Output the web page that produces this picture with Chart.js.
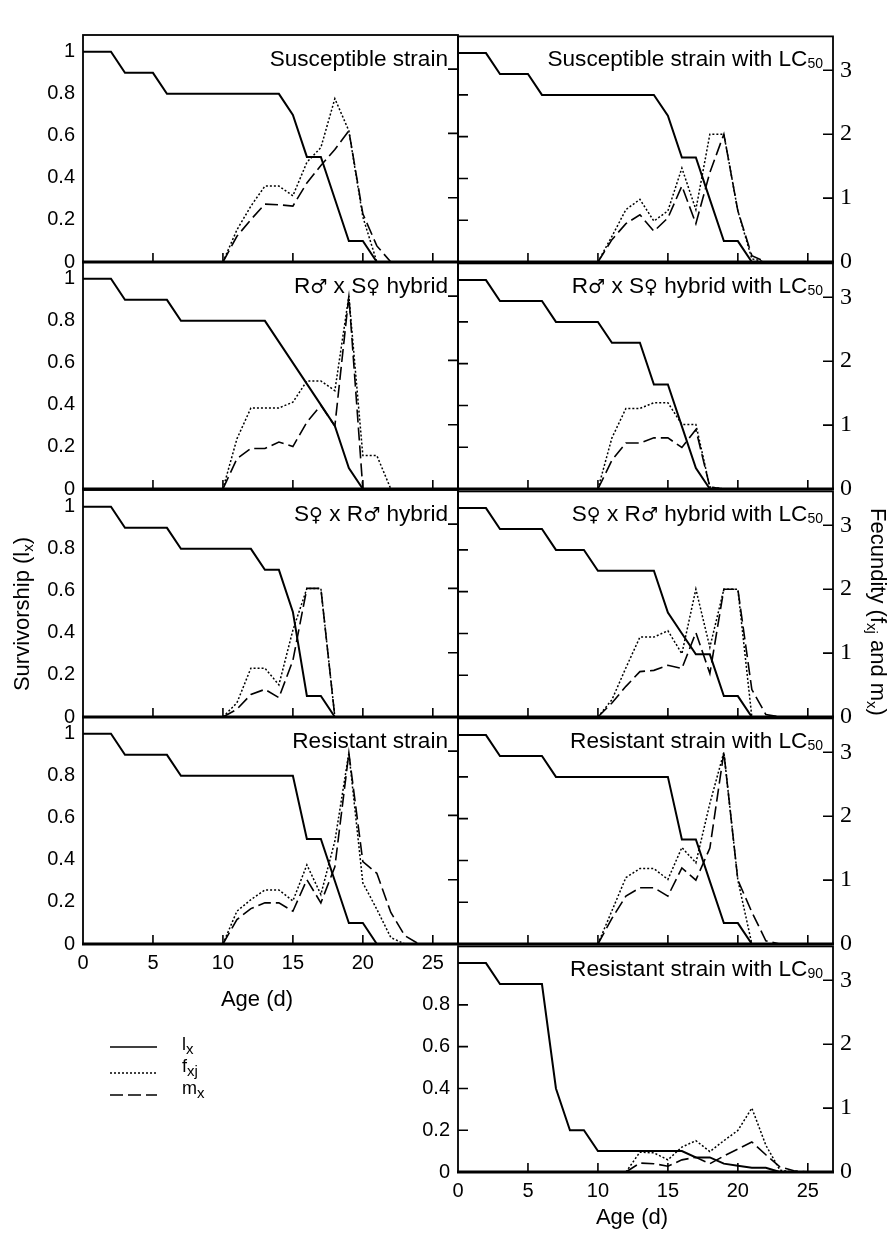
<!DOCTYPE html>
<html lang="en">
<head>
<meta charset="UTF-8">
<title>Survivorship and fecundity</title>
<script src="https://cdn.jsdelivr.net/npm/chart.js"></script>
<style>
  body { margin: 0; background: #fff; font-family: "Liberation Sans", Arial, "DejaVu Sans", sans-serif; color: #000; }
  #page { position: relative; width: 888px; height: 1258px; overflow: hidden; }
  canvas { position: absolute; }
  .title { position: absolute; width: 365px; text-align: right; font-size: 22.6px; line-height: 22px; white-space: nowrap; }
  .title sub { font-size: 14px; vertical-align: -2px; line-height: 0; }
  .sym { font-family: "DejaVu Sans", sans-serif; font-size: 19px; line-height: 0; }
  .lab { position: absolute; font-size: 22px; line-height: 24px; white-space: nowrap; text-align: center; }
  .lab sub, .leg sub { font-size: 15px; vertical-align: -4px; line-height: 0; }
  .leg { position: absolute; left: 182px; font-size: 18px; line-height: 20px; }
</style>
</head>
<body>
<div id="page">
  <div class="lab" style="left:197px; top:987px; width:120px;">Age (d)</div>
  <div class="lab" style="left:572px; top:1205px; width:120px;">Age (d)</div>
  <div class="lab" style="left:-98px; top:602px; width:240px; transform:rotate(-90deg);">Survivorship (l<sub>x</sub>)</div>
  <div class="lab" style="left:748px; top:600px; width:260px; transform:rotate(90deg);">Fecundity (f<sub>xj</sub> and m<sub>x</sub>)</div>
  <svg style="position:absolute; left:105px; top:1035px;" width="60" height="70">
    <line x1="5" y1="12" x2="52" y2="12" stroke="#000" stroke-width="1.6"/>
    <line x1="5" y1="38" x2="52" y2="38" stroke="#000" stroke-width="1.4" stroke-dasharray="2,2"/>
    <line x1="5" y1="60" x2="52" y2="60" stroke="#000" stroke-width="1.6" stroke-dasharray="13,5"/>
  </svg>
  <div class="leg" style="top:1034px;">l<sub>x</sub></div>
  <div class="leg" style="top:1056px;">f<sub>xj</sub></div>
  <div class="leg" style="top:1078px;">m<sub>x</sub></div>
</div>
<script>
const _ = null;
const ageDays = [0,1,2,3,4,5,6,7,8,9,10,11,12,13,14,15,16,17,18,19,20,21,22,23,24,25];
const ageTicks = [0, 5, 10, 15, 20, 25];
const survTicks = [0, 0.2, 0.4, 0.6, 0.8, 1];
const survTicksLC90 = [0, 0.2, 0.4, 0.6, 0.8];
const fecTicks = [0, 1, 2, 3];

// survivorship lx (left axis), fecundity fxj and mx (right axis), by age in days
const lxSus = [1,1,1,0.9,0.9,0.9,0.8,0.8,0.8,0.8,0.8,0.8,0.8,0.8,0.8,0.7,0.5,0.5,0.3,0.1,0.1,0];
const fxSus = [_,_,_,_,_,_,_,_,_,_,0,0.5,0.87,1.18,1.18,1.03,1.55,1.78,2.54,2.04,0.7,0];
const mxSus = [_,_,_,_,_,_,_,_,_,_,0,0.4,0.66,0.9,0.89,0.87,1.23,1.5,1.75,2.04,0.75,0.25,0];

const lxSusLC = [1,1,1,0.9,0.9,0.9,0.8,0.8,0.8,0.8,0.8,0.8,0.8,0.8,0.8,0.7,0.5,0.5,0.3,0.1,0.1,0];
const fxSusLC = [_,_,_,_,_,_,_,_,_,_,0,0.4,0.82,0.98,0.64,0.8,1.47,0.82,2.0,2.0,0.8,0.05,0];
const mxSusLC = [_,_,_,_,_,_,_,_,_,_,0,0.35,0.6,0.74,0.48,0.69,1.19,0.6,1.4,2.0,0.8,0.1,0];

const lxRS = [1,1,1,0.9,0.9,0.9,0.9,0.8,0.8,0.8,0.8,0.8,0.8,0.8,0.7,0.6,0.5,0.4,0.3,0.1,0];
const fxRS = [_,_,_,_,_,_,_,_,_,_,0,0.78,1.26,1.26,1.26,1.35,1.68,1.68,1.53,3.0,0.52,0.52,0];
const mxRS = [_,_,_,_,_,_,_,_,_,_,0,0.47,0.63,0.63,0.73,0.66,1.04,1.3,0.98,3.0,0];

const lxRSLC = [1,1,1,0.9,0.9,0.9,0.9,0.8,0.8,0.8,0.8,0.7,0.7,0.7,0.5,0.5,0.3,0.1,0];
const fxRSLC = [_,_,_,_,_,_,_,_,_,_,0,0.8,1.26,1.26,1.35,1.35,1.01,1.01,0.03,0];
const mxRSLC = [_,_,_,_,_,_,_,_,_,_,0,0.45,0.72,0.72,0.8,0.8,0.65,0.93,0.03,0];

const lxSR = [1,1,1,0.9,0.9,0.9,0.9,0.8,0.8,0.8,0.8,0.8,0.8,0.7,0.7,0.5,0.1,0.1,0];
const fxSR = [_,_,_,_,_,_,_,_,_,_,0,0.22,0.76,0.76,0.5,1.35,2.0,2.0,0];
const mxSR = [_,_,_,_,_,_,_,_,_,_,0,0.12,0.35,0.43,0.3,0.88,2.0,2.0,0];

const lxSRLC = [1,1,1,0.9,0.9,0.9,0.9,0.8,0.8,0.8,0.7,0.7,0.7,0.7,0.7,0.5,0.4,0.3,0.3,0.1,0.1,0];
const fxSRLC = [_,_,_,_,_,_,_,_,_,_,0,0.27,0.77,1.25,1.25,1.35,0.99,2.0,1.09,2.0,2.0,0];
const mxSRLC = [_,_,_,_,_,_,_,_,_,_,0,0.22,0.48,0.71,0.73,0.81,0.76,1.32,0.68,2.0,2.0,0.43,0.04,0];

const lxRes = [1,1,1,0.9,0.9,0.9,0.9,0.8,0.8,0.8,0.8,0.8,0.8,0.8,0.8,0.8,0.5,0.5,0.3,0.1,0.1,0];
const fxRes = [_,_,_,_,_,_,_,_,_,_,0,0.51,0.69,0.84,0.84,0.67,1.23,0.77,1.6,2.97,0.95,0.54,0.1,0];
const mxRes = [_,_,_,_,_,_,_,_,_,_,0,0.38,0.55,0.64,0.64,0.51,1.0,0.64,1.2,2.97,1.28,1.1,0.49,0.13,0];

const lxResLC = [1,1,1,0.9,0.9,0.9,0.9,0.8,0.8,0.8,0.8,0.8,0.8,0.8,0.8,0.8,0.5,0.5,0.3,0.1,0.1,0];
const fxResLC = [_,_,_,_,_,_,_,_,_,_,0,0.52,1.04,1.18,1.18,1.01,1.51,1.27,2.2,3.0,1.0,0];
const mxResLC = [_,_,_,_,_,_,_,_,_,_,0,0.4,0.75,0.88,0.88,0.75,1.19,1.0,1.5,3.0,1.0,0.5,0.05,0];

const lxResLC90 = [1,1,1,0.9,0.9,0.9,0.9,0.4,0.2,0.2,0.1,0.1,0.1,0.1,0.1,0.1,0.1,0.07,0.07,0.04,0.03,0.02,0.02,0];
const fxResLC90 = [_,_,_,_,_,_,_,_,_,_,_,_,0,0.31,0.3,0.19,0.39,0.49,0.32,0.49,0.65,1.0,0.42,0.03,0];
const mxResLC90 = [_,_,_,_,_,_,_,_,_,_,_,_,0,0.14,0.13,0.09,0.19,0.23,0.13,0.25,0.36,0.47,0.27,0.08,0.02,0];

const male = '<span class="sym">\u2642</span>', female = '<span class="sym">\u2640</span>';
const panels = [
  {title: 'Susceptible strain', col: 0, row: 0, lx: lxSus, fx: fxSus, mx: mxSus},
  {title: 'Susceptible strain with LC<sub>50</sub>', col: 1, row: 0, lx: lxSusLC, fx: fxSusLC, mx: mxSusLC},
  {title: 'R' + male + ' x S' + female + ' hybrid', col: 0, row: 1, lx: lxRS, fx: fxRS, mx: mxRS},
  {title: 'R' + male + ' x S' + female + ' hybrid with LC<sub>50</sub>', col: 1, row: 1, lx: lxRSLC, fx: fxRSLC, mx: mxRSLC},
  {title: 'S' + female + ' x R' + male + ' hybrid', col: 0, row: 2, lx: lxSR, fx: fxSR, mx: mxSR},
  {title: 'S' + female + ' x R' + male + ' hybrid with LC<sub>50</sub>', col: 1, row: 2, lx: lxSRLC, fx: fxSRLC, mx: mxSRLC},
  {title: 'Resistant strain', col: 0, row: 3, lx: lxRes, fx: fxRes, mx: mxRes, xLabels: true},
  {title: 'Resistant strain with LC<sub>50</sub>', col: 1, row: 3, lx: lxResLC, fx: fxResLC, mx: mxResLC},
  {title: 'Resistant strain with LC<sub>90</sub>', col: 1, row: 4, lx: lxResLC90, fx: fxResLC90, mx: mxResLC90, xLabels: true, survLabels: survTicksLC90}
];

const plotW = 375, plotH = 227;
const rowTop = [35, 262, 490, 717, 945];
const colLeft = [83, 458];
const M = {l: 80, r: 60, t: 20, b: 50};
const sansFont = {family: '"Liberation Sans", Arial, sans-serif', size: 20};
const serifFont = {family: '"Liberation Serif", "Times New Roman", serif', size: 24};

const frameTicks = {
  id: 'frameTicks',
  afterDatasetsDraw(chart, args, opts) {
    const {ctx, chartArea: a, scales: {x, y, y2}} = chart;
    ctx.save();
    ctx.strokeStyle = '#000';
    ctx.lineWidth = 1.6;
    ctx.beginPath();
    ageTicks.forEach(v => {
      if (v === 0) return;
      const px = x.getPixelForValue(v);
      ctx.moveTo(px, a.bottom); ctx.lineTo(px, a.bottom - 9);
    });
    fecTicks.forEach(v => {
      if (v === 0) return;
      const py = y2.getPixelForValue(v);
      ctx.moveTo(a.right, py); ctx.lineTo(a.right - 10, py);
    });
    if (opts.inner) {
      survTicks.forEach(v => {
        if (v === 0) return;
        const py = y.getPixelForValue(v);
        ctx.moveTo(a.left, py); ctx.lineTo(a.left + 10, py);
      });
    }
    ctx.stroke();
    ctx.lineWidth = 1.8;
    ctx.strokeRect(a.left, a.top, a.right - a.left, a.bottom - a.top);
    ctx.lineWidth = 3;
    ctx.beginPath();
    ctx.moveTo(a.left - 1, a.bottom); ctx.lineTo(a.right + 1, a.bottom);
    ctx.stroke();
    ctx.restore();
  }
};

const toPoints = arr => arr.map((v, i) => ({x: ageDays[i], y: v}));
const page = document.getElementById('page');

panels.forEach(p => {
  const w = M.l + plotW + M.r, h = M.t + plotH + M.b;
  const cv = document.createElement('canvas');
  cv.width = w; cv.height = h;
  cv.style.width = w + 'px'; cv.style.height = h + 'px';
  cv.style.left = (colLeft[p.col] - M.l) + 'px';
  cv.style.top = (rowTop[p.row] - M.t) + 'px';
  page.insertBefore(cv, page.firstChild);

  const t = document.createElement('div');
  t.className = 'title';
  t.innerHTML = p.title;
  t.style.left = colLeft[p.col] + 'px';
  t.style.top = (rowTop[p.row] + 13) + 'px';
  page.appendChild(t);

  const showLeft = p.col === 0 || p.row === 4;
  const leftVals = p.survLabels || survTicks;

  new Chart(cv, {
    type: 'line',
    data: {
      datasets: [
        {label: 'lx', data: toPoints(p.lx), yAxisID: 'y', borderColor: '#000', borderWidth: 2, pointRadius: 0, clip: false},
        {label: 'fxj', data: toPoints(p.fx), yAxisID: 'y2', borderColor: '#000', borderWidth: 1.5, borderDash: [2, 2], pointRadius: 0, clip: false},
        {label: 'mx', data: toPoints(p.mx), yAxisID: 'y2', borderColor: '#000', borderWidth: 1.6, borderDash: [13, 5], pointRadius: 0, clip: false}
      ]
    },
    options: {
      responsive: false,
      animation: false,
      devicePixelRatio: 1,
      events: [],
      layout: {padding: {top: M.t, left: 0, right: 0, bottom: 0}},
      plugins: {legend: {display: false}, tooltip: {enabled: false}, frameTicks: {inner: p.col === 1}},
      scales: {
        x: {
          type: 'linear', min: 0, max: 26.8,
          afterBuildTicks: s => { s.ticks = ageTicks.map(v => ({value: v})); },
          ticks: {display: !!p.xLabels, padding: 7, font: sansFont, color: '#000', maxRotation: 0, autoSkip: false},
          grid: {display: false, drawTicks: false},
          border: {display: false},
          afterFit: s => { s.height = M.b; }
        },
        y: {
          position: 'left', min: 0, max: 1.08,
          afterBuildTicks: s => { s.ticks = leftVals.map(v => ({value: v})); },
          ticks: {display: showLeft, padding: 8, font: sansFont, color: '#000', callback: v => String(v)},
          grid: {display: false, drawTicks: false},
          border: {display: false},
          afterFit: s => { s.width = M.l; }
        },
        y2: {
          position: 'right', min: 0, max: 3.53,
          afterBuildTicks: s => { s.ticks = fecTicks.map(v => ({value: v})); },
          ticks: {display: p.col === 1, padding: 7, font: serifFont, color: '#000', callback: v => String(v)},
          grid: {display: false, drawTicks: false},
          border: {display: false},
          afterFit: s => { s.width = M.r; }
        }
      }
    },
    plugins: [frameTicks]
  });
});
</script>
</body>
</html>
